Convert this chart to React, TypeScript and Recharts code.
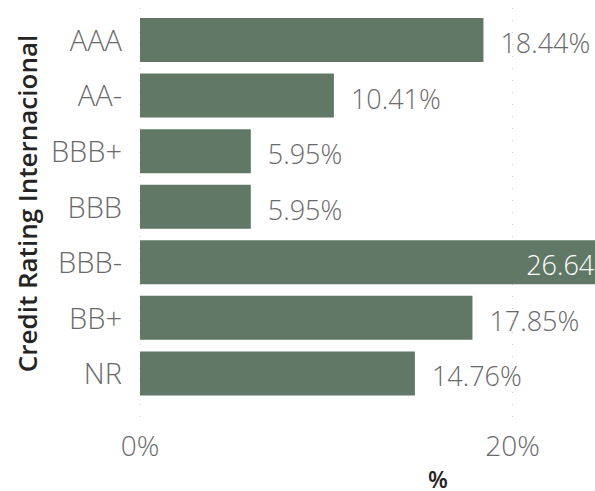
import { BarChart, Bar, XAxis, YAxis, CartesianGrid, LabelList } from 'recharts'

const ratings = ['AAA', 'AA-', 'BBB+', 'BBB', 'BBB-', 'BB+', 'NR']
const shares = [18.44, 10.41, 5.95, 5.95, 26.64, 17.85, 14.76]
const xTicks = [0, 20]

const data = ratings.map((r, i) => ({ rating: r, share: shares[i] }))

const FONT = '"Open Sans", "Segoe UI", sans-serif'
const BAR = '#617866'
const TXT = '#6a6a6a'
const TITLE = '#252423'
const VIEW_W = 595

const YTick = ({ x, y, payload }: any) => (
  <text x={x} y={y + 11} textAnchor="end" fill={TXT} fontFamily={FONT} fontWeight={300} fontSize={29}>
    {payload.value}
  </text>
)

const XTick = ({ x, y, payload }: any) => (
  <text x={x} y={y + 21} textAnchor="middle" fill={TXT} fontFamily={FONT} fontWeight={300} fontSize={28}>
    {payload.value}%
  </text>
)

const ValueLabel = ({ x, y, width, height, value }: any) => {
  const end = x + width
  const inside = end + 100 > VIEW_W
  return (
    <text
      x={inside ? end - 110 : end + 17}
      y={y + height / 2 + 13}
      textAnchor="start"
      fill={inside ? '#ffffff' : TXT}
      fontFamily={FONT}
      fontWeight={300}
      fontSize={27}
    >
      {value.toFixed(2)}%
    </text>
  )
}

export default function App() {
  return (
    <div style={{ position: 'absolute', left: 0, top: 0, width: 595, height: 491, overflow: 'hidden', background: '#fff' }}>
      <BarChart width={760} height={491} data={data} layout="vertical" margin={{ top: 8, right: 24, left: 0, bottom: 0 }}>
        <CartesianGrid horizontal={false} stroke="#c8c8c8" strokeDasharray="1 11" />
        <XAxis
          type="number"
          domain={[0, 32]}
          ticks={xTicks}
          axisLine={false}
          tickLine={false}
          tickSize={0}
          tickMargin={17}
          height={73}
          tick={<XTick />}
          label={{
            content: ({ viewBox }: any) => (
              <text x={viewBox.x + viewBox.width / 2} y={viewBox.y + viewBox.height - 3} textAnchor="middle" fill={TITLE} fontFamily={FONT} fontWeight={600} fontSize={23}>
                %
              </text>
            ),
          }}
        />
        <YAxis
          type="category"
          dataKey="rating"
          width={140}
          axisLine={false}
          tickLine={false}
          tickSize={0}
          tickMargin={18}
          padding={{ top: 4, bottom: 17 }}
          tick={<YTick />}
          label={{
            content: () => {
              const cy = 203.5
              return (
                <text x={37} y={cy} transform={`rotate(-90, 37, ${cy})`} textAnchor="middle" fill={TITLE} fontFamily={FONT} fontWeight={600} fontSize={26}>
                  Credit Rating Internacional
                </text>
              )
            },
          }}
        />
        <Bar dataKey="share" fill={BAR} barSize={44} isAnimationActive={false}>
          <LabelList dataKey="share" content={<ValueLabel />} />
        </Bar>
      </BarChart>
    </div>
  )
}
